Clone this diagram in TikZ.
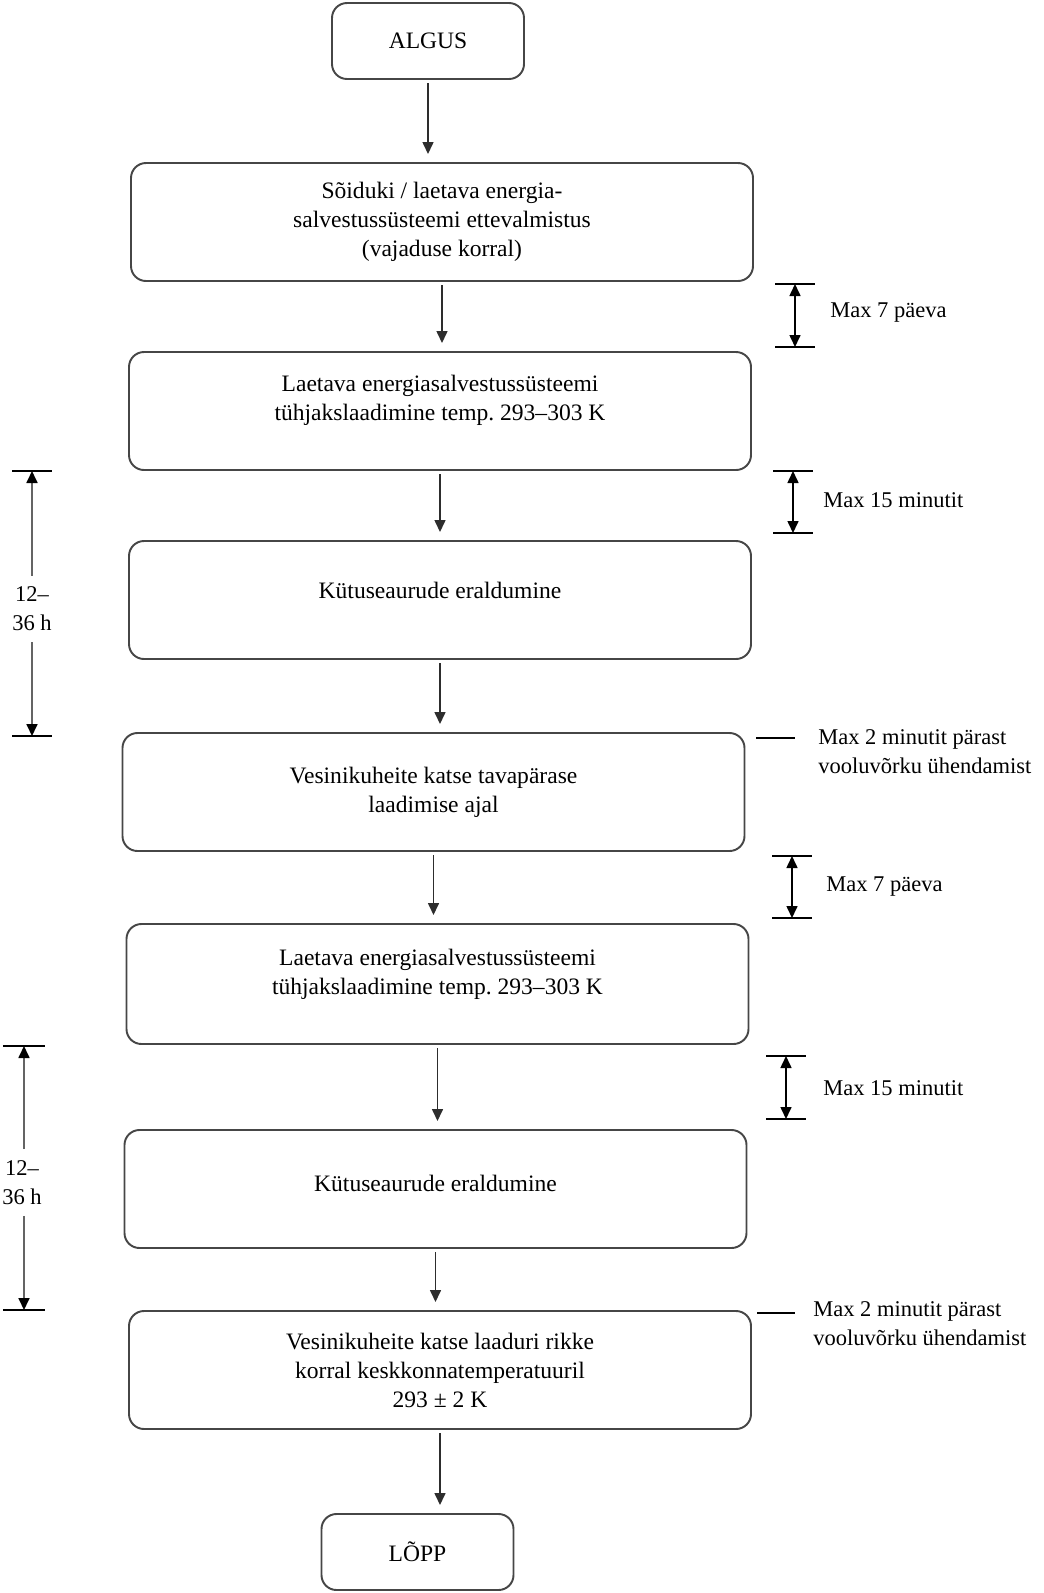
\documentclass[tikz,border=0pt]{standalone}
\usepackage{fontspec}
\setmainfont{Liberation Serif}
\usepackage{tikz}
\usetikzlibrary{positioning,arrows.meta}
\definecolor{BoxLine}{RGB}{70,70,70}
\definecolor{ArrLine}{RGB}{45,45,45}
\definecolor{SpanLine}{RGB}{100,100,100}
\frenchspacing

\begin{document}
\begin{tikzpicture}[
    node distance=1.42cm,
    box/.style={rectangle, rounded corners=0.3cm, draw=BoxLine, line width=1.1pt,
        font=\fontsize{13.4}{16.5}\selectfont, text width=11.6cm, align=flush center,
        minimum width=12.44cm, minimum height=2.36cm, inner sep=2pt, outer sep=0pt},
    term/.style={box, text width=3.4cm, minimum width=3.84cm, minimum height=1.52cm},
    arr/.style={-{Triangle[length=0.24cm, width=0.22cm]}, line width=0.9pt, ArrLine,
        shorten <=0.08cm, shorten >=0.18cm},
    span/.style={{Triangle[length=0.24cm, width=0.22cm]}-{Triangle[length=0.24cm, width=0.22cm]},
        line width=0.9pt, black},
    hspan/.style={-{Triangle[length=0.24cm, width=0.22cm, color=black]}, line width=1pt, SpanLine},
    tick/.style={line width=1.1pt, black},
    note/.style={font=\fontsize{12.8}{16.5}\selectfont, align=left, anchor=west, inner sep=0pt},
    hours/.style={font=\fontsize{12.8}{16.5}\selectfont, align=center, inner sep=0.22cm},
]
\useasboundingbox (0,0) rectangle (20.88,-31.86);

% main chain
\node[term] (algus) at (8.56,-0.82) {ALGUS};
\node[box, below=1.68cm of algus, xshift=0.28cm] (b1) {Sõiduki / laetava energia-\\salvestussüsteemi ettevalmistus\\(vajaduse korral)};
\node[box, below=1.42cm of b1, xshift=-0.04cm, text depth=1.11cm] (b2) {Laetava energiasalvestussüsteemi\\tühjakslaadimine temp. 293–303 K};
\node[box, below=1.42cm of b2, text depth=0.4cm] (b3) {Kütuseaurude eraldumine};
\node[box, below=1.48cm of b3, xshift=-0.13cm] (b4) {Vesinikuheite katse tavapärase\\laadimise ajal};
\node[box, below=1.46cm of b4, xshift=0.08cm, minimum height=2.4cm, text depth=1.06cm] (b5) {Laetava energiasalvestussüsteemi\\tühjakslaadimine temp. 293–303 K};
\node[box, below=1.72cm of b5, xshift=-0.04cm, text depth=0.24cm] (b6) {Kütuseaurude eraldumine};
\node[box, below=1.26cm of b6, xshift=0.09cm] (b7) {Vesinikuheite katse laaduri rikke\\korral keskkonnatemperatuuril\\293 ± 2 K};
\node[term, below=1.70cm of b7, xshift=-0.45cm] (lopp) {LÕPP};

\draw[arr] (algus.south) -- (algus.south |- b1.north);
\draw[arr] (b1.south) -- (b1.south |- b2.north);
\draw[arr] (b2.south) -- (b2.south |- b3.north);
\draw[arr] (b3.south) -- (b3.south |- b4.north);
\draw[arr] (b4.south) -- (b4.south |- b5.north);
\draw[arr] (b5.south) -- (b5.south |- b6.north);
\draw[arr] (b6.south) -- (b6.south |- b7.north);
\draw[arr] (b7.south) -- (b7.south |- lopp.north);

% time limits on the right
\coordinate (r1a) at (15.9,-5.68);
\coordinate (r1b) at (15.9,-6.94);
\draw[tick] ([xshift=-0.4cm]r1a) -- ([xshift=0.4cm]r1a);
\draw[tick] ([xshift=-0.4cm]r1b) -- ([xshift=0.4cm]r1b);
\draw[span] (r1a) -- (r1b);
\node[note] (n1) at (16.6,-6.26) {Max 7 päeva};

\coordinate (r2a) at (15.86,-9.42);
\coordinate (r2b) at (15.86,-10.66);
\draw[tick] ([xshift=-0.4cm]r2a) -- ([xshift=0.4cm]r2a);
\draw[tick] ([xshift=-0.4cm]r2b) -- ([xshift=0.4cm]r2b);
\draw[span] (r2a) -- (r2b);
\node[note] (n2) at (16.46,-10.0) {Max 15 minutit};

\coordinate (r3a) at (15.12,-14.76);
\coordinate (r3b) at (15.9,-14.76);
\draw[tick] (r3a) -- (r3b);
\node[note] (n3) at (16.36,-15.04) {Max 2 minutit pärast\\vooluvõrku ühendamist};

\coordinate (r4a) at (15.84,-17.12);
\coordinate (r4b) at (15.84,-18.36);
\draw[tick] ([xshift=-0.4cm]r4a) -- ([xshift=0.4cm]r4a);
\draw[tick] ([xshift=-0.4cm]r4b) -- ([xshift=0.4cm]r4b);
\draw[span] (r4a) -- (r4b);
\node[note] (n4) at (16.52,-17.74) {Max 7 päeva};

\coordinate (r5a) at (15.72,-21.12);
\coordinate (r5b) at (15.72,-22.38);
\draw[tick] ([xshift=-0.4cm]r5a) -- ([xshift=0.4cm]r5a);
\draw[tick] ([xshift=-0.4cm]r5b) -- ([xshift=0.4cm]r5b);
\draw[span] (r5a) -- (r5b);
\node[note] (n5) at (16.46,-21.76) {Max 15 minutit};

\coordinate (r6a) at (15.14,-26.26);
\coordinate (r6b) at (15.9,-26.26);
\draw[tick] (r6a) -- (r6b);
\node[note] (n6) at (16.26,-26.48) {Max 2 minutit pärast\\vooluvõrku ühendamist};

% hours on the left
\coordinate (l1a) at (0.64,-9.42);
\coordinate (l1b) at (0.64,-14.72);
\draw[tick] ([xshift=-0.4cm]l1a) -- ([xshift=0.4cm]l1a);
\draw[tick] ([xshift=-0.4cm]l1b) -- ([xshift=0.4cm]l1b);
\node[hours] (h1) at (0.64,-12.18) {12–\\36 h};
\draw[hspan] (h1.north) -- (l1a);
\draw[hspan] (h1.south) -- (l1b);

\coordinate (l2a) at (0.48,-20.92);
\coordinate (l2b) at (0.48,-26.2);
\draw[tick] ([xshift=-0.42cm]l2a) -- ([xshift=0.42cm]l2a);
\draw[tick] ([xshift=-0.42cm]l2b) -- ([xshift=0.42cm]l2b);
\node[hours] (h2) at (0.44,-23.65) {12–\\36 h};
\draw[hspan] (h2.north -| l2a) -- (l2a);
\draw[hspan] (h2.south -| l2b) -- (l2b);
\end{tikzpicture}
\end{document}
